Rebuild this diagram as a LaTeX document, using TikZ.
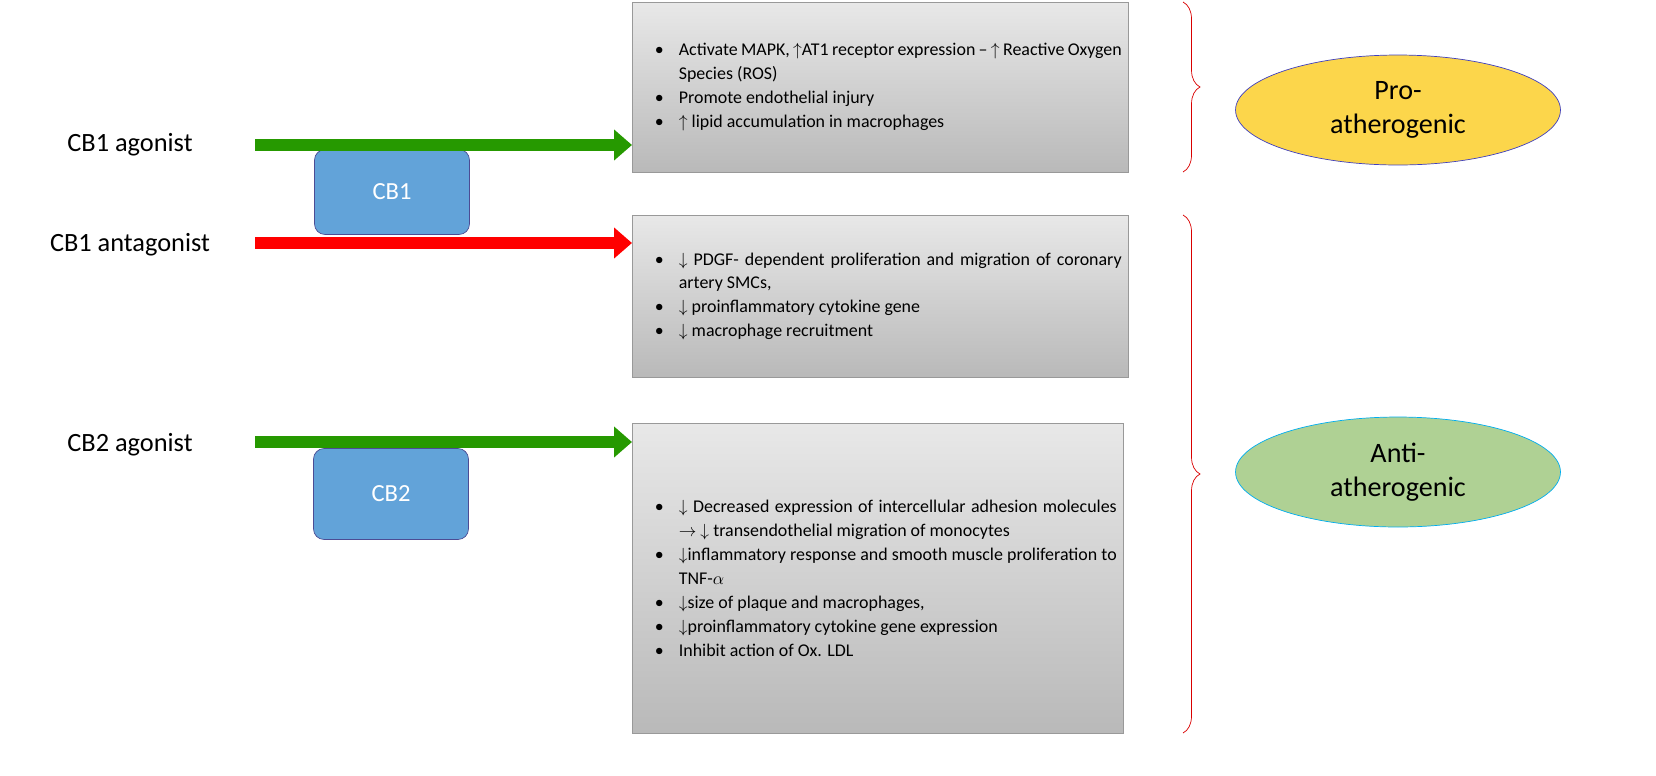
\documentclass[tikz,border=0pt]{standalone}
\usepackage{fontspec}
\setmainfont{Carlito}
\usepackage{enumitem}
\usetikzlibrary{arrows.meta,decorations.pathreplacing,shapes.geometric}
\begin{document}
\begin{tikzpicture}[x=0.02cm,y=-0.02cm,
  box/.style={draw=gray!80,top color=gray!18,bottom color=gray!55,minimum width=9.92cm,anchor=north west,
     inner sep=0pt,align=left,font=\fontsize{10.2}{13.6}\selectfont},
  rec/.style={draw=blue!40!black!70,fill=blue!45!cyan!55!white!85!black,rounded corners=6pt,
     text=white,font=\fontsize{14}{16}\selectfont,minimum width=3.1cm},
  lab/.style={font=\fontsize{15}{18}\selectfont},
  arr/.style={line width=0.24cm,-{Triangle[width=0.6cm,length=0.36cm]}},
  br/.style={draw=red!85!black,decorate,decoration={brace,amplitude=0.34cm}},
  ell/.style={ellipse,minimum width=6.5cm,minimum height=2.2cm,align=center,font=\fontsize{16}{19}\selectfont}]
\useasboundingbox (0,0) rectangle (1656,775);
\newcommand\blist[2]{\begin{minipage}{#1}\begin{itemize}[nosep,leftmargin=0.44cm,labelsep=0.3cm]#2\end{itemize}\end{minipage}}
\node[box,minimum height=3.4cm] (b1) at (632,2) {\hspace{0.36cm}\blist{9.3cm}{%
 \item Activate MAPK, $\uparrow$AT1 receptor expression -- $\uparrow$ Reactive Oxygen Species (ROS)
 \item Promote endothelial injury
 \item $\uparrow$ lipid accumulation in macrophages}};
\node[box,minimum height=3.24cm] (b2) at (632,215) {\hspace{0.36cm}\blist{9.3cm}{%
 \item $\downarrow$ PDGF- dependent proliferation and migration of coronary artery SMCs,
 \item $\downarrow$ proinflammatory cytokine gene
 \item $\downarrow$ macrophage recruitment}};
\node[box,minimum height=6.2cm,minimum width=9.82cm] (b3) at (632,423) {\hspace{0.36cm}\blist{9.2cm}{%
 \item $\downarrow$ Decreased expression of intercellular adhesion molecules $\rightarrow$ $\downarrow$ transendothelial migration of monocytes
 \item $\downarrow$inflammatory response and smooth muscle proliferation to TNF-$\alpha$
 \item $\downarrow$size of plaque and macrophages,
 \item $\downarrow$proinflammatory cytokine gene expression
 \item Inhibit action of Ox. LDL}};
\node[rec,minimum height=1.7cm] (cb1) at (392,192) {CB1};
\node[rec,minimum height=1.82cm] (cb2) at (391,494) {CB2};
\node[lab] (l1) at (130,145) {CB1 agonist};
\node[lab] (l2) at (130,245) {CB1 antagonist};
\node[lab] (l3) at (130,445) {CB2 agonist};
\coordinate (s1) at (255,145); \coordinate (s2) at (255,243); \coordinate (s3) at (255,442);
\draw[arr,green!50!black!80!lime] (s1) -- (b1.west |- s1);
\draw[arr,red] (s2) -- (b2.west |- s2);
\draw[arr,green!50!black!80!lime] (s3) -- (b3.west |- s3);
\coordinate (t1) at (1183,2); \coordinate (u1) at (1183,172);
\coordinate (t2) at (1183,215); \coordinate (u2) at (1183,733);
\draw[br] (t1) -- (u1);
\draw[br] (t2) -- (u2);
\node[ell,draw=blue!50!gray,fill=yellow!60!orange!70] (pro) at (1398,110) {Pro-\\atherogenic};
\node[ell,draw=cyan,fill=green!40!lime!40!gray!60] (anti) at (1398,472) {Anti-\\atherogenic};
\end{tikzpicture}
\end{document}
